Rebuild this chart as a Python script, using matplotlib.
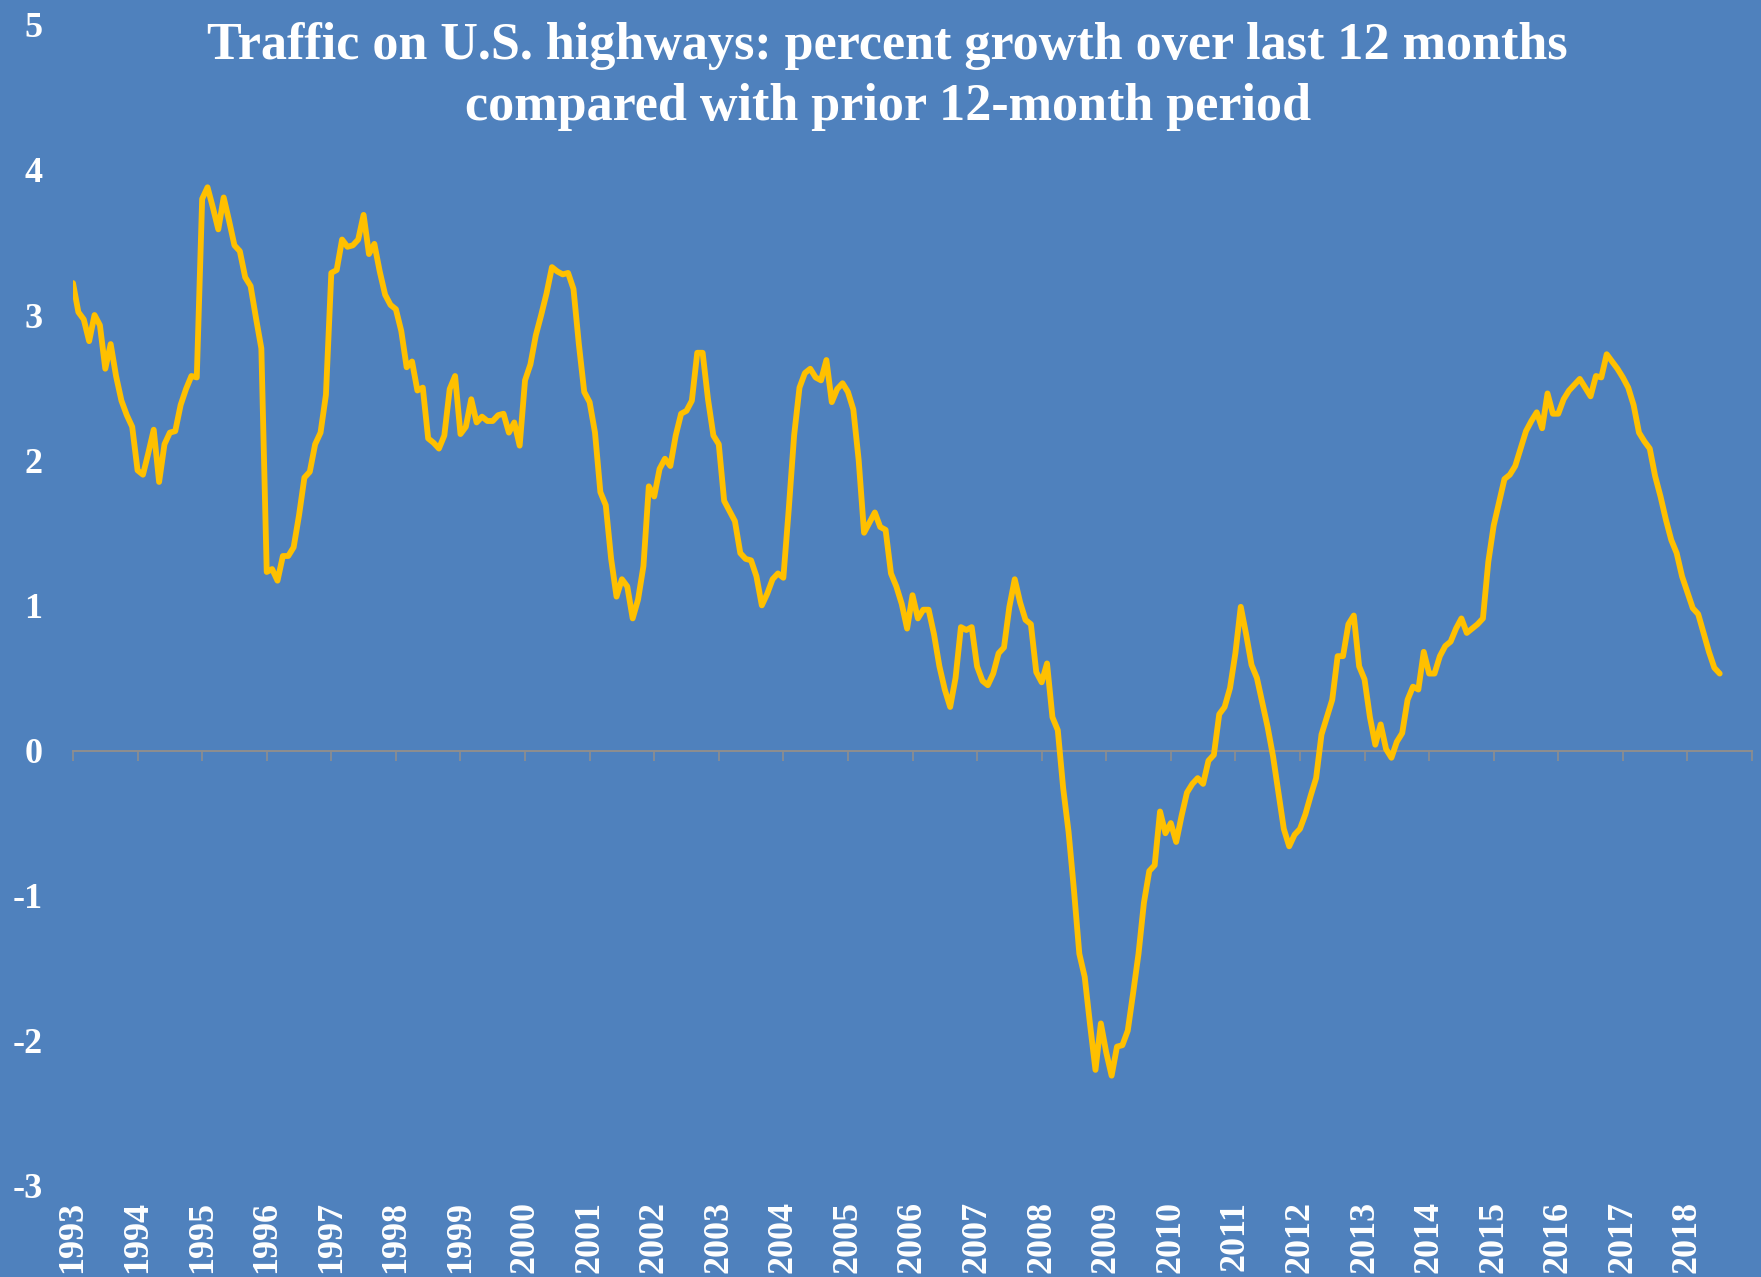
import numpy as np
import matplotlib
matplotlib.use("Agg")
import matplotlib.pyplot as plt

# ---------------- data (monthly, Jan 1993 .. Jul 2018) ----------------
start_year = 1993
pct_growth = [
    # 1993
    3.22, 3.02, 2.97, 2.82, 3.00, 2.93, 2.63, 2.80, 2.58, 2.41, 2.31, 2.23,
    # 1994
    1.93, 1.90, 2.05, 2.21, 1.85, 2.11, 2.19, 2.20, 2.38, 2.49, 2.58, 2.57,
    # 1995
    3.80, 3.88, 3.74, 3.59, 3.81, 3.65, 3.48, 3.44, 3.26, 3.20, 2.98, 2.77,
    # 1996
    1.23, 1.25, 1.17, 1.34, 1.34, 1.40, 1.62, 1.88, 1.92, 2.11, 2.19, 2.45,
    # 1997
    3.29, 3.31, 3.52, 3.47, 3.48, 3.52, 3.69, 3.42, 3.49, 3.30, 3.14, 3.07,
    # 1998
    3.04, 2.89, 2.64, 2.68, 2.48, 2.50, 2.15, 2.12, 2.08, 2.17, 2.49, 2.58,
    # 1999
    2.18, 2.23, 2.42, 2.26, 2.30, 2.27, 2.27, 2.31, 2.32, 2.19, 2.26, 2.10,
    # 2000
    2.55, 2.66, 2.86, 3.00, 3.15, 3.33, 3.30, 3.28, 3.29, 3.18, 2.80, 2.47,
    # 2001
    2.40, 2.19, 1.78, 1.69, 1.32, 1.06, 1.18, 1.13, 0.91, 1.04, 1.27, 1.82,
    # 2002
    1.75, 1.94, 2.01, 1.96, 2.17, 2.32, 2.34, 2.41, 2.74, 2.74, 2.42, 2.17,
    # 2003
    2.11, 1.72, 1.65, 1.58, 1.36, 1.32, 1.31, 1.20, 1.00, 1.08, 1.18, 1.22,
    # 2004
    1.19, 1.66, 2.17, 2.50, 2.60, 2.63, 2.57, 2.55, 2.69, 2.40, 2.49, 2.53,
    # 2005
    2.47, 2.35, 2.00, 1.50, 1.57, 1.64, 1.54, 1.52, 1.22, 1.13, 1.01, 0.84,
    # 2006
    1.07, 0.91, 0.97, 0.97, 0.80, 0.58, 0.42, 0.30, 0.50, 0.85, 0.83, 0.85,
    # 2007
    0.58, 0.48, 0.45, 0.53, 0.67, 0.71, 0.99, 1.18, 1.02, 0.90, 0.87, 0.54,
    # 2008
    0.47, 0.60, 0.23, 0.14, -0.26, -0.56, -0.96, -1.40, -1.56, -1.89, -2.20, -1.88,
    # 2009
    -2.08, -2.24, -2.04, -2.03, -1.93, -1.67, -1.40, -1.05, -0.83, -0.79, -0.42, -0.57,
    # 2010
    -0.50, -0.63, -0.45, -0.29, -0.23, -0.19, -0.23, -0.07, -0.03, 0.25, 0.30, 0.43,
    # 2011
    0.67, 0.99, 0.80, 0.59, 0.50, 0.33, 0.16, -0.04, -0.29, -0.54, -0.66, -0.58,
    # 2012
    -0.54, -0.44, -0.31, -0.19, 0.11, 0.23, 0.35, 0.65, 0.65, 0.87, 0.93, 0.58,
    # 2013
    0.49, 0.23, 0.04, 0.18, 0.01, -0.05, 0.06, 0.12, 0.35, 0.44, 0.42, 0.68,
    # 2014
    0.53, 0.53, 0.65, 0.72, 0.75, 0.84, 0.91, 0.81, 0.84, 0.87, 0.91, 1.30,
    # 2015
    1.55, 1.71, 1.87, 1.90, 1.96, 2.08, 2.20, 2.27, 2.33, 2.22, 2.46, 2.32,
    # 2016
    2.32, 2.42, 2.48, 2.52, 2.56, 2.50, 2.44, 2.58, 2.57, 2.73, 2.68, 2.63,
    # 2017
    2.57, 2.50, 2.38, 2.19, 2.13, 2.08, 1.89, 1.75, 1.59, 1.45, 1.36, 1.20,
    # 2018
    1.09, 0.98, 0.94, 0.81, 0.68, 0.57, 0.53,
]
year_labels = [str(y) for y in range(1993, 2019)]
y_ticks = [-3, -2, -1, 0, 1, 2, 3, 4, 5]
title = ("Traffic on U.S. highways: percent growth over last 12 months\n"
         "compared with prior 12-month period")

# ---------------- style ----------------
BG = "#4F81BD"
LINE = "#FFC000"
AXIS_GRAY = "#8E8E8E"
SERIF = ["Liberation Serif", "DejaVu Serif"]

W, H = 1761, 1277
fig = plt.figure(figsize=(W / 100, H / 100), dpi=100, facecolor=BG)
ax = fig.add_axes([73 / W, 1 - 1186 / H, (1752 - 73) / W, (1186 - 24.7) / H])
ax.set_facecolor(BG)

x = start_year + np.arange(len(pct_growth)) / 12.0
ax.plot(x, pct_growth, color=LINE, lw=4.2, solid_joinstyle="round",
        solid_capstyle="round", zorder=3)

ax.set_xlim(1993, 2019)
ax.set_ylim(-3, 5)

for s in ax.spines.values():
    s.set_visible(False)

# y tick labels
ax.set_yticks(y_ticks)
ax.set_yticklabels([str(v) for v in y_ticks])
ax.tick_params(axis="y", length=0, pad=22, labelcolor="white")
for lab in ax.get_yticklabels():
    lab.set_fontfamily(SERIF)
    lab.set_fontsize(26)
    lab.set_fontweight("bold")

# x tick labels along the bottom
ax.set_xticks([int(y) for y in year_labels])
ax.set_xticklabels(year_labels, rotation=90)
ax.tick_params(axis="x", length=0, pad=11, labelcolor="white")
for lab in ax.get_xticklabels():
    lab.set_fontfamily(SERIF)
    lab.set_fontsize(26)
    lab.set_fontweight("bold")
    lab.set_va("top")

# zero axis with outward tick marks
zero_loc = (0 - (-3)) / (5 - (-3))
sec = ax.secondary_xaxis(zero_loc)
sec.set_xticks(list(range(1993, 2020)))
sec.tick_params(axis="x", direction="out", length=7, width=1.2,
                color=AXIS_GRAY, labelbottom=False, labeltop=False)
sec.spines["bottom"].set_color(AXIS_GRAY)
sec.spines["bottom"].set_linewidth(1.4)
sec.spines["top"].set_visible(False)
sec.xaxis.set_ticks_position("bottom")
sec.set_xticklabels([])

fig.text(887.6 / W, 1 - 76.5 / H, title, ha="center", va="center",
         color="white", fontsize=37.5, fontweight="bold", family=SERIF,
         linespacing=1.36)

fig.savefig("out.png", dpi=100, facecolor=BG)
